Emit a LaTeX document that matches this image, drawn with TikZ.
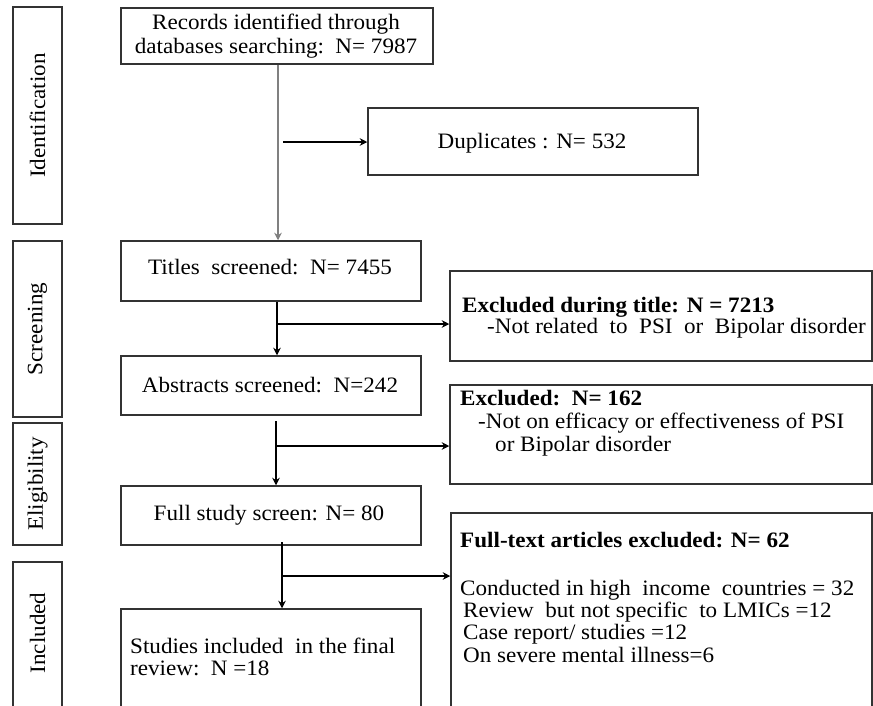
\documentclass[tikz,border=0pt]{standalone}
\usepackage{fontspec}
\setmainfont{Liberation Serif}[FakeStretch=1.05]
\usetikzlibrary{arrows.meta}
\definecolor{boxline}{HTML}{333333}
\definecolor{feedline}{HTML}{808080}
\tikzset{
  frame/.style={draw=boxline, line width=1.5pt, rectangle, inner sep=0pt},
  phase/.style={frame, minimum width=49pt},
  label/.style={inner sep=0pt, font=\fontsize{22}{23.5}\selectfont},
  boldlabel/.style={label, font=\fontsize{22}{23.5}\selectfont\bfseries},
  sidetext/.style={label, rotate=90},
  flow/.style={draw=black, line width=1.4pt, -{Stealth[length=7.5pt,width=7.5pt,inset=2.5pt]}},
  branch/.style={flow},
}
\begin{document}
\begin{tikzpicture}[x=1pt,y=-1pt]
\useasboundingbox (0,0) rectangle (873,705);
\clip (0,0) rectangle (873,705);
\fill[white] (0,0) rectangle (873,705);

% phase labels on the left
\node[phase, minimum height=217pt] (pid) at (37.5,115.5) {};
\node[sidetext] (tid) at (pid.center) {Identification};
\node[phase, minimum height=176pt] (pscr) at (37.5,329) {};
\node[sidetext] (tscr) at (pscr.center) {Screening};
\node[phase, minimum height=122pt] (pel) at (37.5,484) {};
\node[sidetext] (tel) at (pel.center) {Eligibility};
\node[phase, minimum height=150pt] (pinc) at (37.5,637) {};
\node[sidetext] (tinc) at (37.5,633) {Included};

% main column
\node[frame, minimum width=312pt, minimum height=56pt] (rec) at (277,36) {};
\node[label, align=center] (trec) at (276,36) {Records identified through\\databases searching:\, N= 7987};

\node[frame, minimum width=300pt, minimum height=60pt] (tit) at (271,271) {};
\node[label, anchor=base] (ttit) at (270,274) {Titles\ \ screened:\ \ N= 7455};

\node[frame, minimum width=300pt, minimum height=59pt] (abs) at (271,385.5) {};
\node[label, anchor=base] (tabs) at (270,392) {Abstracts screened:\ \ N=242};

\node[frame, minimum width=300pt, minimum height=59pt] (full) at (271,515.5) {};
\node[label, anchor=base] (tfull) at (269,520) {Full study screen: N= 80};

\node[frame, minimum width=300pt, minimum height=100pt] (inc) at (271,659) {};
\node[label, anchor=base west] (tinc1) at (130,653) {Studies included\ \ in the final};
\node[label, anchor=base west] (tinc2) at (130,675) {review:\, N =18};

% exclusion column
\node[frame, minimum width=330pt, minimum height=67pt] (dup) at (533,141.5) {};
\node[label, anchor=base] (tdup) at (532,148) {Duplicates : N= 532};

\node[frame, minimum width=422pt, minimum height=90pt] (ex1) at (661,316) {};
\node[boldlabel, anchor=base west] (tex1a) at (462,312) {Excluded during title: N = 7213};
\node[label, anchor=base west] (tex1b) at (487,333) {-Not related\ \ to\ \ PSI\ \ or\ \ Bipolar disorder};

\node[frame, minimum width=422pt, minimum height=99pt] (ex2) at (661,434.5) {};
\node[boldlabel, anchor=base west] (tex2a) at (460,405) {Excluded:\ \ N= 162};
\node[label, anchor=base west] (tex2b) at (478,428) {-Not on efficacy or effectiveness of PSI};
\node[label, anchor=base west] (tex2c) at (495,451) {or Bipolar disorder};

\node[frame, minimum width=421pt, minimum height=200pt] (ex3) at (661.5,613) {};
\node[boldlabel, anchor=base west] (tex3a) at (460,547) {Full-text articles excluded: N= 62};
\node[label, anchor=base west] (tex3b) at (460,595) {Conducted in high\ \ income\ \ countries = 32};
\node[label, anchor=base west] (tex3c) at (463,617) {Review\ \ but not specific\ \ to LMICs =12};
\node[label, anchor=base west] (tex3d) at (463,639) {Case report/ studies =12};
\node[label, anchor=base west] (tex3e) at (463,662) {On severe mental illness=6};

% connectors
\draw[flow, draw=feedline, line width=2pt] (rec.south -| 278,0) -- (tit.north -| 278,0);
\coordinate (b0) at (283,142);
\draw[branch] (b0) -- (dup.west |- b0);

\draw[flow] (tit.south -| 277,0) -- (abs.north -| 277,0);
\coordinate (b1) at (277,324);
\draw[branch] (b1) -- (ex1.west |- b1);

\coordinate (a2) at (276,421);
\draw[flow] (a2) -- (full.north -| a2);
\coordinate (b2) at (277,446);
\draw[branch] (b2) -- (ex2.west |- b2);

\coordinate (a3) at (282,542);
\draw[flow] (a3) -- (inc.north -| a3);
\coordinate (b3) at (282,576);
\draw[branch] (b3) -- (ex3.west |- b3);
\end{tikzpicture}
\end{document}
